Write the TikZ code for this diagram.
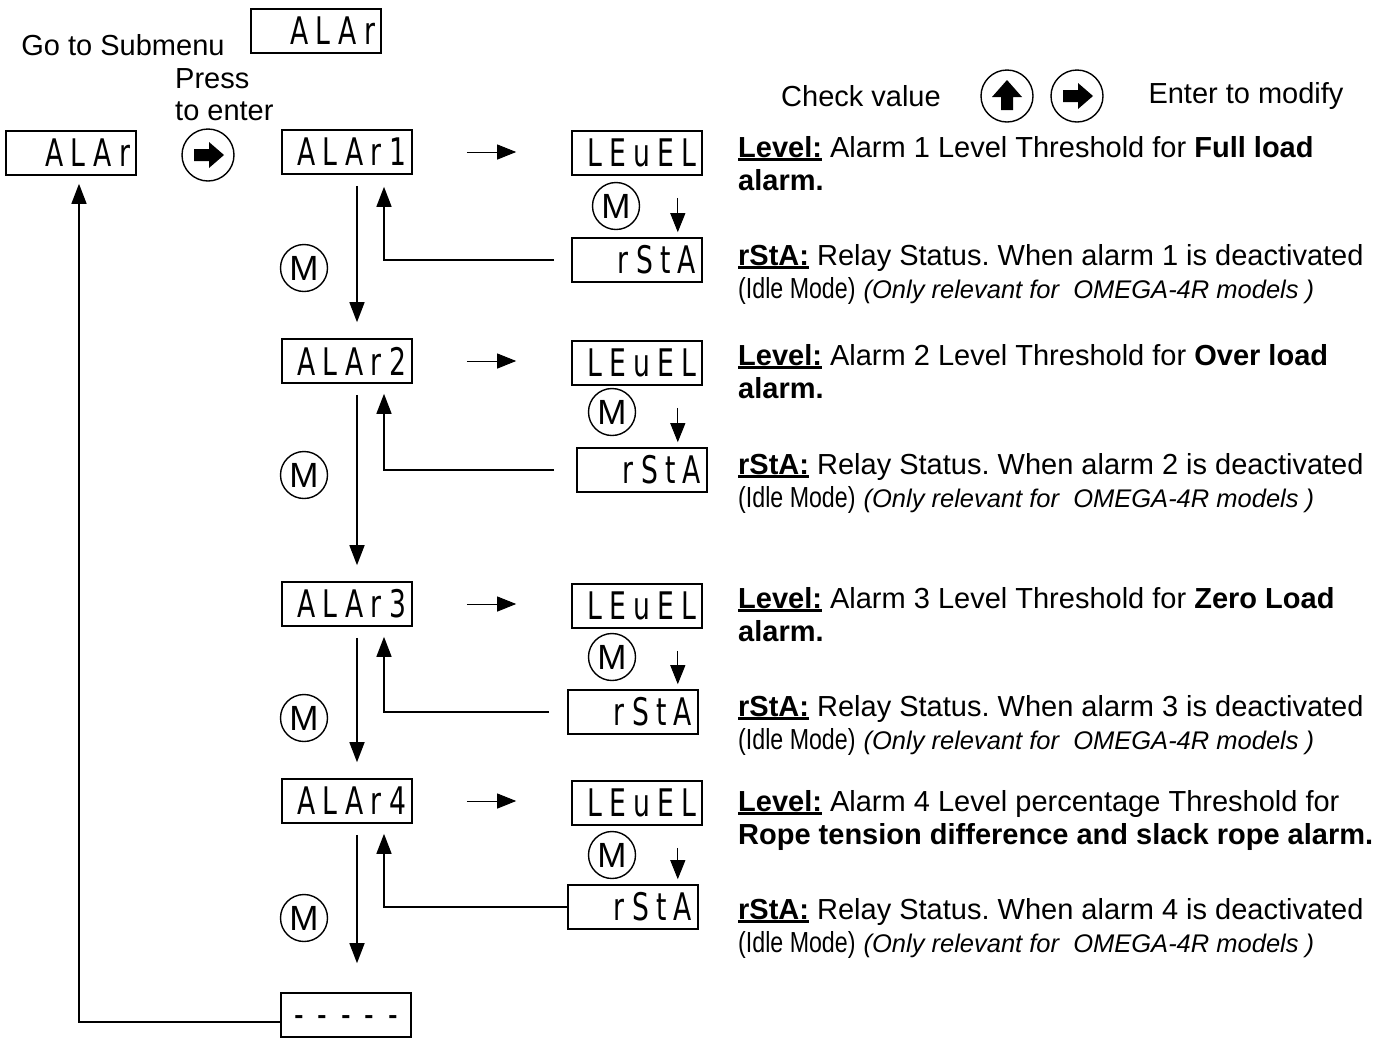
\documentclass[tikz,border=0pt]{standalone}
\usepackage{fontspec}
\setmainfont{Liberation Sans}
\newfontfamily\segfont{DejaVu Sans}[FakeStretch=0.7,LetterSpace=19]
\newfontfamily\narrowfont{Liberation Sans}[FakeStretch=0.8]
\usetikzlibrary{arrows.meta}
\newcommand{\ulbf}[1]{\setbox0\hbox{\textbf{#1}}\rlap{\rule[-3.5pt]{\wd0}{2.6pt}}\box0{}}
\newcommand{\idle}{{\narrowfont (Idle Mode)} {\fontsize{25.5}{28}\selectfont\itshape (Only relevant for\ \ OMEGA-4R models )}}

\begin{document}
\frenchspacing
\begin{tikzpicture}[x=1pt,y=-1pt,font=\fontsize{29}{33.5}\selectfont]
  \tikzstyle{every node}+=[inner sep=0pt]
  \tikzstyle{disp}=[draw, line width=1.6pt, minimum width=130pt, minimum height=44pt, text width=118pt, align=right, font=\segfont\fontsize{38}{38}\selectfont]
  \tikzstyle{mbtn}=[draw, circle, line width=1.4pt, minimum size=47pt, font=\fontsize{35}{35}\selectfont]
  \tikzstyle{abtn}=[draw, circle, line width=1.4pt, minimum size=52pt]
  \tikzstyle{flow}=[line width=1.5pt, -{Triangle[length=20pt,width=15pt]}]
  \tikzstyle{hop}=[line width=0.9pt, -{Triangle[length=19pt,width=15pt]}]
  \tikzstyle{desc}=[anchor=north west, align=left]
  \useasboundingbox (0,0) rectangle (1397,1037);
  % submenu entry
  \node (goto) at (123,45) {Go to Submenu};
  \node [disp] (alrtop) at (316,31) {ALAr};
  \node [desc, font=\fontsize{29}{32}\selectfont] (press) at (175,68) {Press\\to enter};
  \node [disp] (alr0) at (71,153) {ALAr};
  \node [abtn] (enter) at (208,155) {};
  \fill [shift={(enter.center)}] (-14,-6) -- (1,-6) -- (1,-13) -- (16,0) -- (1,13) -- (1,6) -- (-14,6) -- cycle;
  % header
  \node (check) at (861,96) {Check value};
  \node [abtn] (upbtn) at (1007,96) {};
  \fill [shift={(upbtn.center)}] (-6,14) -- (-6,1) -- (-15,1) -- (0,-16) -- (15,1) -- (6,1) -- (6,14) -- cycle;
  \node [abtn] (rtbtn) at (1077,96) {};
  \fill [shift={(rtbtn.center)}] (-14,-6) -- (1,-6) -- (1,-13) -- (16,0) -- (1,13) -- (1,6) -- (-14,6) -- cycle;
  \node (modify) at (1246,96) {Enter to modify};
  % alarm 1
  \node [disp] (alr1) at (347,152) {ALAr1};
  \node [disp] (lv1) at (637,153) {LEuEL};
  \node [mbtn] (mr1) at (616,206) {M};
  \node [disp] (rs1) at (637,260) {rStA};
  \node [mbtn] (ml1) at (304,268) {M};
  % alarm 2
  \node [disp] (alr2) at (347,361) {ALAr2};
  \node [disp] (lv2) at (637,363) {LEuEL};
  \node [mbtn] (mr2) at (612,412) {M};
  \node [disp] (rs2) at (642,470) {rStA};
  \node [mbtn] (ml2) at (304,475) {M};
  % alarm 3
  \node [disp] (alr3) at (347,604) {ALAr3};
  \node [disp] (lv3) at (637,606) {LEuEL};
  \node [mbtn] (mr3) at (612,657) {M};
  \node [disp] (rs3) at (633,712) {rStA};
  \node [mbtn] (ml3) at (304,718) {M};
  % alarm 4
  \node [disp] (alr4) at (347,801) {ALAr4};
  \node [disp] (lv4) at (637,803) {LEuEL};
  \node [mbtn] (mr4) at (612,855) {M};
  \node [disp] (rs4) at (633,907) {rStA};
  \node [mbtn] (ml4) at (304,918) {M};
  \node [disp, align=center] (dash) at (346,1015) {\raisebox{-12pt}[0pt][0pt]{\spaceskip=14pt\relax - - - - -}};
  % texts
  \node [desc] (lvt1) at (738,136) {\ulbf{Level:} Alarm 1 Level Threshold for \textbf{Full load}\\\textbf{alarm.}};
  \node [desc] (rst1) at (738,244) {\ulbf{rStA:} Relay Status. When alarm 1 is deactivated\\\idle};
  \node [desc] (lvt2) at (738,344) {\ulbf{Level:} Alarm 2 Level Threshold for \textbf{Over load}\\\textbf{alarm.}};
  \node [desc] (rst2) at (738,453) {\ulbf{rStA:} Relay Status. When alarm 2 is deactivated\\\idle};
  \node [desc] (lvt3) at (738,587) {\ulbf{Level:} Alarm 3 Level Threshold for \textbf{Zero Load}\\\textbf{alarm.}};
  \node [desc] (rst3) at (738,695) {\ulbf{rStA:} Relay Status. When alarm 3 is deactivated\\\idle};
  \node [desc] (lvt4) at (738,790) {\ulbf{Level:} Alarm 4 Level percentage Threshold for\\\textbf{Rope tension difference and slack rope alarm.}};
  \node [desc] (rst4) at (738,898) {\ulbf{rStA:} Relay Status. When alarm 4 is deactivated\\\idle};
  % connectors
  \draw [flow, shorten <=11pt, shorten >=16pt] ([xshift=10pt]alr1.south) -- ([xshift=10pt]alr2.north);
  \draw [flow, shorten <=11pt, shorten >=16pt] ([xshift=10pt]alr2.south) -- ([xshift=10pt]alr3.north);
  \draw [flow, shorten <=11pt, shorten >=16pt] ([xshift=10pt]alr3.south) -- ([xshift=10pt]alr4.north);
  \draw [flow, shorten <=11pt, shorten >=29pt] ([xshift=10pt]alr4.south) -- ([xshift=10pt]alr4.south |- dash.north);
  \draw [flow, shorten <=17pt, shorten >=12pt] (rs1.west) -| ([xshift=37pt]alr1.south);
  \draw [flow, shorten <=22pt, shorten >=10pt] (rs2.west) -| ([xshift=37pt]alr2.south);
  \draw [flow, shorten <=18pt, shorten >=10pt] (rs3.west) -| ([xshift=37pt]alr3.south);
  \draw [flow, shorten >=10pt] (rs4.west) -| ([xshift=37pt]alr4.south);
  \draw [hop, shorten <=54pt, shorten >=55pt] (alr1.east) -- (alr1.east -| lv1.west);
  \draw [hop, shorten <=54pt, shorten >=55pt] (alr2.east) -- (alr2.east -| lv2.west);
  \draw [hop, shorten <=54pt, shorten >=55pt] (alr3.east) -- (alr3.east -| lv3.west);
  \draw [hop, shorten <=54pt, shorten >=55pt] (alr4.east) -- (alr4.east -| lv4.west);
  \draw [hop, shorten <=22pt, shorten >=5pt] ([xshift=-25pt]lv1.south east) -- ([xshift=-25pt]lv1.south east |- rs1.north);
  \draw [hop, shorten <=22pt, shorten >=5pt] ([xshift=-25pt]lv2.south east) -- ([xshift=-25pt]lv2.south east |- rs2.north);
  \draw [hop, shorten <=22pt, shorten >=5pt] ([xshift=-25pt]lv3.south east) -- ([xshift=-25pt]lv3.south east |- rs3.north);
  \draw [hop, shorten <=22pt, shorten >=5pt] ([xshift=-25pt]lv4.south east) -- ([xshift=-25pt]lv4.south east |- rs4.north);
  \draw [flow, shorten >=8pt] ([yshift=-7pt]dash.west) -| ([xshift=8pt]alr0.south);
\end{tikzpicture}
\end{document}
